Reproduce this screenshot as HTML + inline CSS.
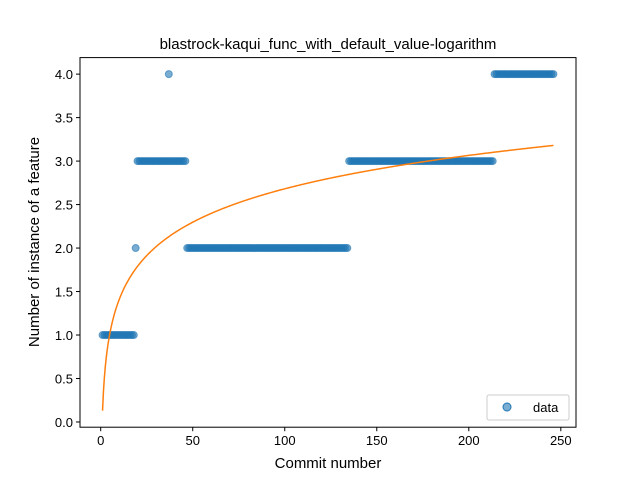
<!DOCTYPE html>
<html><head><meta charset="utf-8"><style>
body{margin:0;background:#fff}
svg{font-family:"Liberation Sans","DejaVu Sans",sans-serif}
</style></head><body>
<svg id="chart" width="640" height="480" xmlns="http://www.w3.org/2000/svg">
<rect width="640" height="480" fill="#fff"/>
<text x="328" y="49" font-size="15" text-anchor="middle">blastrock-kaqui_func_with_default_value-logarithm</text>
<g id="plot"></g>
<rect x="80" y="57.6" width="496" height="369.6" fill="none" stroke="#000" stroke-width="1"/>
<text x="328" y="468" font-size="15" text-anchor="middle">Commit number</text>
<text transform="translate(39,242) rotate(-90)" font-size="15" text-anchor="middle">Number of instance of a feature</text>
<g>
<rect x="487" y="395" width="82" height="25" rx="2" fill="#fff" fill-opacity="0.8" stroke="#ccc"/>
<circle cx="507" cy="407" r="4" fill="#1f77b4" fill-opacity="0.6" stroke="#1f77b4"/>
<text x="533" y="412" font-size="13">data</text>
</g>
</svg>
<script>
const runStarts=[1,19,20,47,135,214];
const runEnds=[18,19,46,134,213,246];
const runValues=[1,2,3,2,3,4];
const outlierX=[37];
const outlierY=[4];
const fitParams=[0.13,0.554];
const xTicks=[0,50,100,150,200,250];
const yTicks=[0,0.5,1,1.5,2,2.5,3,3.5,4];
const xmin=-11.25,xmax=258.25,ymin=-0.06,ymax=4.19;
const L=80,R=576,T=57.6,B=427.2;
const sx=v=>L+(v-xmin)/(xmax-xmin)*(R-L);
const sy=v=>B-(v-ymin)/(ymax-ymin)*(B-T);
const NS="http://www.w3.org/2000/svg";
const g=document.getElementById('plot');
function mk(t,a){const e=document.createElementNS(NS,t);for(const k in a)e.setAttribute(k,a[k]);g.appendChild(e);return e;}
xTicks.forEach(v=>{
 const l=mk('line',{x1:sx(v),x2:sx(v),y1:B,y2:B+4,stroke:'#000'});
 
 
 const t=mk('text',{x:sx(v),y:B+18,'font-size':13,'text-anchor':'middle'});t.textContent=v;
 
 
});
yTicks.forEach(v=>{
 const l=mk('line',{x1:L-4,x2:L,y1:sy(v),y2:sy(v),stroke:'#000'});
 
 
 const t=mk('text',{x:L-7,y:sy(v)+5,'font-size':13,'text-anchor':'end'});t.textContent=v.toFixed(1);
 
 
});
function pt(x,y){
 const c=mk('circle',{cx:sx(x),cy:sy(y),r:3.5,fill:'#1f77b4','fill-opacity':0.6,stroke:'#1f77b4','stroke-opacity':0.6});
 
 
}
runStarts.forEach((s,i)=>{for(let x=s;x<=runEnds[i];x++)pt(x,runValues[i]);});
outlierX.forEach((x,i)=>pt(x,outlierY[i]));
let d='';
const xEnd=runEnds[runEnds.length-1];
for(let x=1;x<=xEnd;x+=0.5){const y=fitParams[0]+fitParams[1]*Math.log(x);d+=(d?'L':'M')+sx(x).toFixed(2)+','+sy(y).toFixed(2);}
const p=mk('path',{d:d,fill:'none',stroke:'#ff7f0e','stroke-width':1.5});


</script>
</body></html>
